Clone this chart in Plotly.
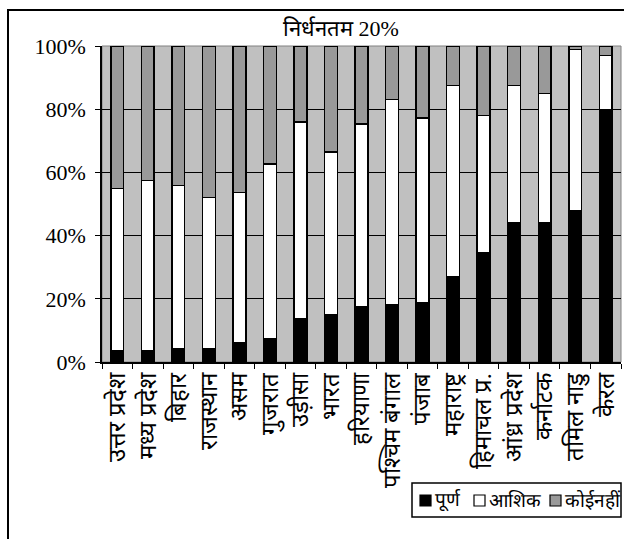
import plotly.graph_objects as go

categories = ["उत्तर प्रदेश", "मध्य प्रदेश", "बिहार", "राजस्थान", "असम", "गुजरात",
              "उड़ीसा", "भारत", "हरियाणा", "पश्चिम बंगाल", "पंजाब", "महाराष्ट्र",
              "हिमाचल प्र.", "आंध्र प्रदेश", "कर्नाटक", "तमिल नाडु", "केरल"]
full = [3.5, 3.5, 4.2, 4.2, 6.0, 7.3, 13.6, 14.9, 17.4, 18.0, 18.7, 27.0, 34.6, 44.1, 44.1, 47.9, 79.9]
partial = [51.4, 54.0, 51.6, 47.8, 47.7, 55.3, 62.4, 51.6, 57.9, 65.1, 58.5, 60.5, 43.4, 43.4, 40.9, 51.0, 17.1]
none_ = [45.1, 42.5, 44.2, 48.0, 46.3, 37.4, 24.0, 33.5, 24.7, 16.9, 22.8, 12.5, 22.0, 12.5, 15.0, 1.1, 3.0]
series_names = ["पूर्ण", "आशिक", "कोईनहीं"]
y_ticks = [0, 20, 40, 60, 80, 100]
y_tick_labels = ["0%", "20%", "40%", "60%", "80%", "100%"]
title_text = "निर्धनतम 20%"

colors = ["#000000", "#FFFFFF", "#999999"]
fig = go.Figure()
for name, vals, col in zip(series_names, [full, partial, none_], colors):
    fig.add_trace(go.Bar(x=categories, y=vals, name=name, showlegend=False,
                         marker=dict(color=col, line=dict(color="#000000", width=1.5))))

W, H = 624, 539
L, R, T, B = 102, 621, 46, 362  # plot area in pixels
pw, ph = R - L, B - T
def px(x):
    return (x - L) / pw
def py(y):
    return (B - y) / ph

DEVA = "Liberation Serif"
shapes = [
    dict(type="rect", xref="paper", yref="paper", x0=0, x1=1, y0=0, y1=1,
         line=dict(color="#808080", width=1), layer="below"),
    dict(type="rect", xref="paper", yref="paper", x0=px(8), x1=px(660), y0=py(600), y1=py(10),
         line=dict(color="black", width=2)),
    # legend box
    dict(type="rect", xref="paper", yref="paper", x0=px(412), x1=px(621), y0=py(517), y1=py(483),
         line=dict(color="black", width=1.5), fillcolor="white"),
]
annotations = [dict(text=title_text, xref="paper", yref="paper", x=px(341), y=py(29),
                    xanchor="center", yanchor="middle", showarrow=False,
                    font=dict(size=22, family=DEVA))]
leg_sq = [420, 474, 550]
for name, col, sx in zip(series_names, colors, leg_sq):
    shapes.append(dict(type="rect", xref="paper", yref="paper", x0=px(sx), x1=px(sx + 11),
                       y0=py(506), y1=py(495), fillcolor=col, line=dict(color="black", width=1.2)))
    annotations.append(dict(text=name, xref="paper", yref="paper", x=px(sx + 13), y=py(500),
                            xanchor="left", yanchor="middle", showarrow=False,
                            font=dict(size=19, family=DEVA)))

fig.update_layout(
    width=W, height=H, barmode="stack", bargap=0.58,
    margin=dict(l=L, r=W - R, t=T, b=H - B, autoexpand=False),
    paper_bgcolor="white", plot_bgcolor="#C0C0C0",
    font=dict(family="Liberation Serif", color="black", size=19),
    showlegend=False,
    xaxis=dict(tickangle=-90, tickson="boundaries", ticks="outside", ticklen=5,
               tickcolor="black", showline=True, linecolor="black", linewidth=1.5,
               showgrid=False, tickfont=dict(size=24, family=DEVA)),
    yaxis=dict(range=[0, 100], tickvals=y_ticks, ticktext=y_tick_labels, ticks="outside",
               ticklen=5, tickcolor="black", showline=True, linecolor="black", linewidth=1.5,
               showgrid=True, gridcolor="black", gridwidth=1, zeroline=False,
               tickfont=dict(size=22, family="Liberation Serif"), ticklabelstandoff=5),
    annotations=annotations,
    shapes=shapes,
)
fig.write_html("out.html", config={"displayModeBar": False},
               post_script="document.body.style.margin='0';document.body.style.overflow='hidden';")
